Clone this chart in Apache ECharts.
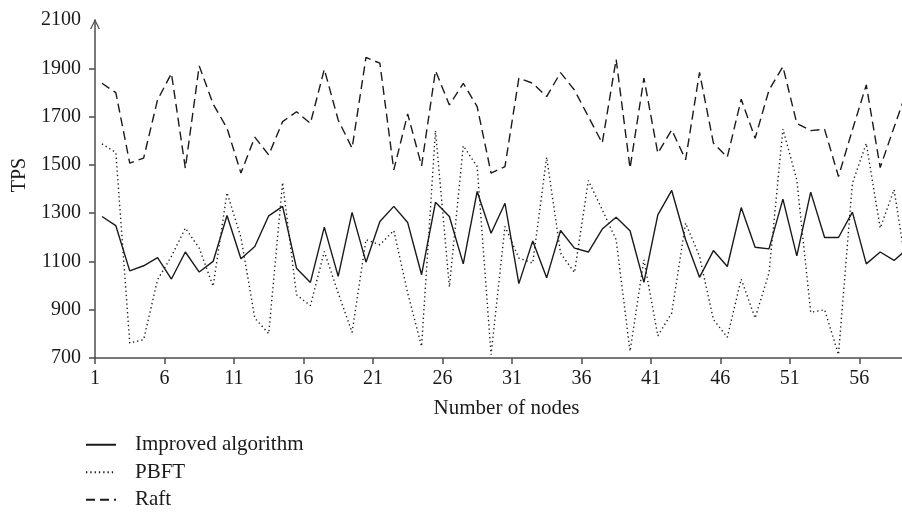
<!DOCTYPE html>
<html>
<head>
<meta charset="utf-8">
<script src="https://cdn.jsdelivr.net/npm/echarts@6/dist/echarts.min.js"></script>
<style>
html, body { margin: 0; padding: 0; background: #fff; }
#chart { width: 902px; height: 514px; }
</style>
</head>
<body>
<div id="chart"></div>
<script>
// node numbers on the x axis
var nodes = [1, 2, 3, 4, 5, 6, 7, 8, 9, 10, 11, 12, 13, 14, 15, 16, 17, 18, 19, 20,
             21, 22, 23, 24, 25, 26, 27, 28, 29, 30, 31, 32, 33, 34, 35, 36, 37, 38, 39, 40,
             41, 42, 43, 44, 45, 46, 47, 48, 49, 50, 51, 52, 53, 54, 55, 56, 57, 58, 59];

// TPS
var improved = [1286, 1248, 1061, 1082, 1116, 1027, 1139, 1056, 1100, 1290,
                1111, 1162, 1289, 1328, 1072, 1013, 1242, 1038, 1303, 1097,
                1265, 1328, 1261, 1045, 1345, 1286, 1090, 1390, 1217, 1341,
                1008, 1185, 1032, 1228, 1155, 1139, 1234, 1283, 1227, 1013,
                1293, 1394, 1190, 1034, 1145, 1079, 1323, 1159, 1152, 1358,
                1123, 1387, 1199, 1199, 1304, 1090, 1139, 1104, 1155];
var pbft = [1587, 1551, 762, 776, 1024, 1121, 1238, 1155, 997, 1385,
            1200, 865, 801, 1427, 962, 917, 1141, 969, 806, 1190,
            1169, 1228, 969, 748, 1642, 994, 1579, 1493, 714, 1245,
            1114, 1093, 1532, 1134, 1054, 1435, 1314, 1190, 728, 1107,
            792, 886, 1259, 1121, 859, 786, 1027, 865, 1052, 1648,
            1438, 889, 900, 714, 1424, 1589, 1238, 1397, 1030];
var raft = [1838, 1799, 1507, 1528, 1769, 1879, 1486, 1910, 1752, 1652,
            1466, 1615, 1541, 1679, 1720, 1672, 1896, 1686, 1569, 1945,
            1921, 1479, 1711, 1496, 1890, 1748, 1838, 1741, 1466, 1493,
            1859, 1838, 1783, 1882, 1810, 1700, 1590, 1937, 1486, 1859,
            1548, 1645, 1521, 1883, 1590, 1532, 1772, 1610, 1810, 1907,
            1672, 1642, 1647, 1452, 1645, 1831, 1489, 1656, 1820];

// tick labels
var xTickNodes = [1, 6, 11, 16, 21, 26, 31, 36, 41, 46, 51, 56];
var yTicks = [700, 900, 1100, 1300, 1500, 1700, 1900, 2100];

var serif = 'Liberation Serif';
var ink = '#1a1a1a';
var axisGrey = '#4d4d4d';

function points(values) {
    var pts = [];
    for (var i = 0; i < values.length; i++) pts.push([nodes[i], values[i]]);
    return pts;
}

// ticks sit on the left edge of each labelled node
var xTickPos = xTickNodes.map(function (n) { return n - 0.5; });

var option = {
    animation: false,
    backgroundColor: '#fff',
    grid: { left: 95, right: 0, top: 20, bottom: 156, outerBoundsMode: 'none' },
    legend: {
        orient: 'vertical',
        left: 85,
        top: 431,
        padding: 0,
        itemWidth: 30,
        itemHeight: 14,
        itemGap: 0,
        selectedMode: false,
        itemStyle: { opacity: 0 },
        textStyle: { fontFamily: serif, fontSize: 21, color: ink, lineHeight: 27.5, padding: [0, 0, 0, 14] },
        data: ['Improved algorithm', 'PBFT', 'Raft']
    },
    xAxis: {
        type: 'value',
        min: 0.5,
        max: 58.57,
        name: 'Number of nodes',
        nameLocation: 'middle',
        nameGap: 40,
        nameTextStyle: { fontFamily: serif, fontSize: 21, color: ink, padding: [0, 0, 0, 16] },
        axisLine: { lineStyle: { color: axisGrey, width: 1.5 } },
        axisTick: { show: true, customValues: xTickPos, length: 6, lineStyle: { color: axisGrey, width: 1.5 } },
        axisLabel: {
            customValues: xTickPos,
            margin: 11,
            fontFamily: serif, fontSize: 20, color: ink,
            formatter: function (v) { return String(Math.round(v + 0.5)); }
        },
        splitLine: { show: false }
    },
    yAxis: {
        type: 'value',
        min: 700,
        max: 2100,
        name: 'TPS',
        nameLocation: 'middle',
        nameGap: 62,
        nameTextStyle: { fontFamily: serif, fontSize: 20, color: ink, padding: [0, 0, 0, 28] },
        axisLine: {
            show: true,
            lineStyle: { color: axisGrey, width: 1.5 },
            symbol: ['none', 'path://M0,10 L5,0 L10,10 L8.6,10 L5,2.6 L1.4,10 Z'],
            symbolSize: [12, 10],
            symbolOffset: [0, -4]
        },
        axisTick: { show: true, customValues: yTicks.slice(0, -1), length: 6, lineStyle: { color: axisGrey, width: 1.5 } },
        axisLabel: {
            customValues: yTicks,
            margin: 14,
            fontFamily: serif, fontSize: 20, color: ink,
            formatter: function (v) { return String(v); }
        },
        splitLine: { show: false }
    },
    series: [
        {
            name: 'Improved algorithm',
            type: 'line',
            symbol: 'none',
            data: points(improved),
            lineStyle: { color: ink, width: 1.4, type: 'solid' },
            itemStyle: { color: ink }
        },
        {
            name: 'PBFT',
            type: 'line',
            symbol: 'none',
            data: points(pbft),
            lineStyle: { color: ink, width: 1.4, type: [1.3, 3] },
            itemStyle: { color: ink }
        },
        {
            name: 'Raft',
            type: 'line',
            symbol: 'none',
            data: points(raft),
            lineStyle: { color: ink, width: 1.4, type: [9, 5] },
            itemStyle: { color: ink }
        }
    ]
};

var myChart = echarts.init(document.getElementById('chart'));
myChart.setOption(option);
</script>
</body>
</html>
